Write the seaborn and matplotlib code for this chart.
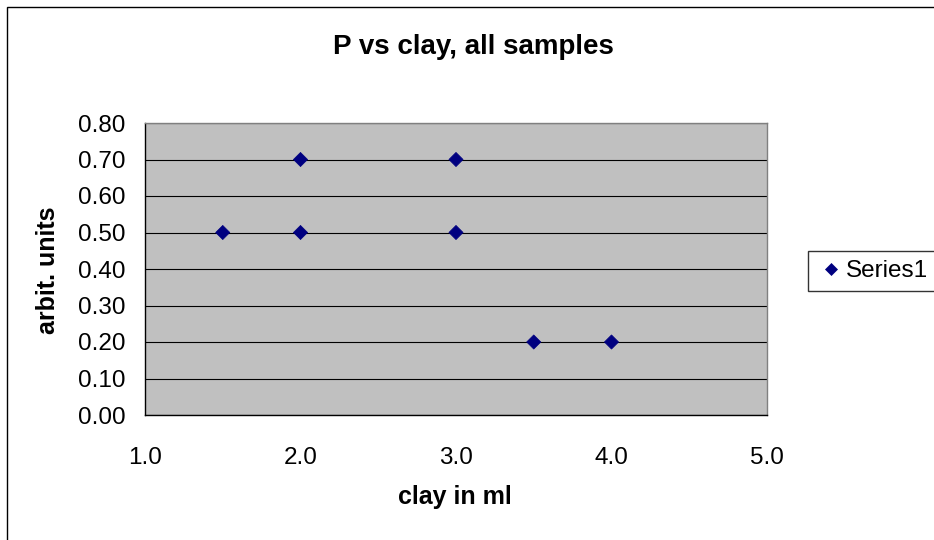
import matplotlib
matplotlib.use("Agg")
import matplotlib.pyplot as plt
import seaborn as sns
import pandas as pd
from matplotlib.patches import Rectangle

clay = [1.5, 2.0, 2.0, 3.0, 3.0, 3.5, 4.0]
units = [0.5, 0.7, 0.5, 0.7, 0.5, 0.2, 0.2]
series = ["Series1"] * len(clay)
xticks = [1.0, 2.0, 3.0, 4.0, 5.0]
yticks = [0.0, 0.1, 0.2, 0.3, 0.4, 0.5, 0.6, 0.7, 0.8]

sns.set_style("white")
plt.rcParams['font.family'] = ['Liberation Sans', 'DejaVu Sans']
plt.rcParams['text.color'] = 'black'
plt.rcParams['axes.labelcolor'] = 'black'
plt.rcParams['xtick.color'] = 'black'
plt.rcParams['ytick.color'] = 'black'

df = pd.DataFrame({"clay": clay, "units": units, "series": series})

fig = plt.figure(figsize=(9.34, 5.4), dpi=100)
fig.patches.append(Rectangle((7/934, -0.1), 1.2, 1 - 7/540 + 0.1, transform=fig.transFigure,
                             fill=False, edgecolor='black', linewidth=1.0))
ax = fig.add_axes([145/934, 1 - 415/540, (767 - 145)/934, (415 - 123)/540])
ax.set_facecolor('#c0c0c0')

sns.scatterplot(data=df, x="clay", y="units", hue="series", palette=["#000080"],
                marker="D", s=52, edgecolor="#000080", linewidth=0.5, ax=ax, zorder=3)

ax.set_xlim(1.0, 5.0)
ax.set_ylim(0.0, 0.8)
ax.set_xticks(xticks)
ax.set_xticklabels([f"{v:.1f}" for v in xticks], fontsize=17.5)
ax.set_yticks(yticks)
ax.set_yticklabels([f"{v:.2f}" for v in yticks], fontsize=17.5)
ax.yaxis.grid(True, color='black', linewidth=0.8)
ax.set_axisbelow(True)
ax.tick_params(axis='both', direction='out', length=6, width=0.8, color='black')
ax.tick_params(axis='y', pad=8)
ax.tick_params(axis='x', pad=17)
for s in ['left', 'bottom']:
    ax.spines[s].set_color('black')
    ax.spines[s].set_linewidth(1.0)
for s in ['top', 'right']:
    ax.spines[s].set_color('#808080')
    ax.spines[s].set_linewidth(1.0)

ax.set_xlabel("clay in ml", fontsize=18, fontweight='bold')
ax.set_ylabel("arbit. units", fontsize=18, fontweight='bold')
ax.xaxis.set_label_coords(455/934, 1 - 497/540, transform=fig.transFigure)
ax.yaxis.set_label_coords(48/934, 1 - 270/540, transform=fig.transFigure)
ax.xaxis.label.set_va('center')
ax.yaxis.label.set_va('center')
fig.text(473/934, 1 - 47/540, "P vs clay, all samples", fontsize=20, fontweight='bold',
         ha='center', va='center')

leg = ax.legend(loc='center left', bbox_to_anchor=(808/934, 1 - 271/540),
                bbox_transform=fig.transFigure, frameon=True, fontsize=17.5,
                handletextpad=0.0, borderpad=0.35, borderaxespad=0, handlelength=1.2,
                fancybox=False)
leg.get_frame().set_edgecolor('black')
leg.get_frame().set_linewidth(1.0)
for h in leg.legend_handles:
    try:
        h.set_markersize(6.5)
    except AttributeError:
        pass

fig.savefig("out.png", dpi=100)
